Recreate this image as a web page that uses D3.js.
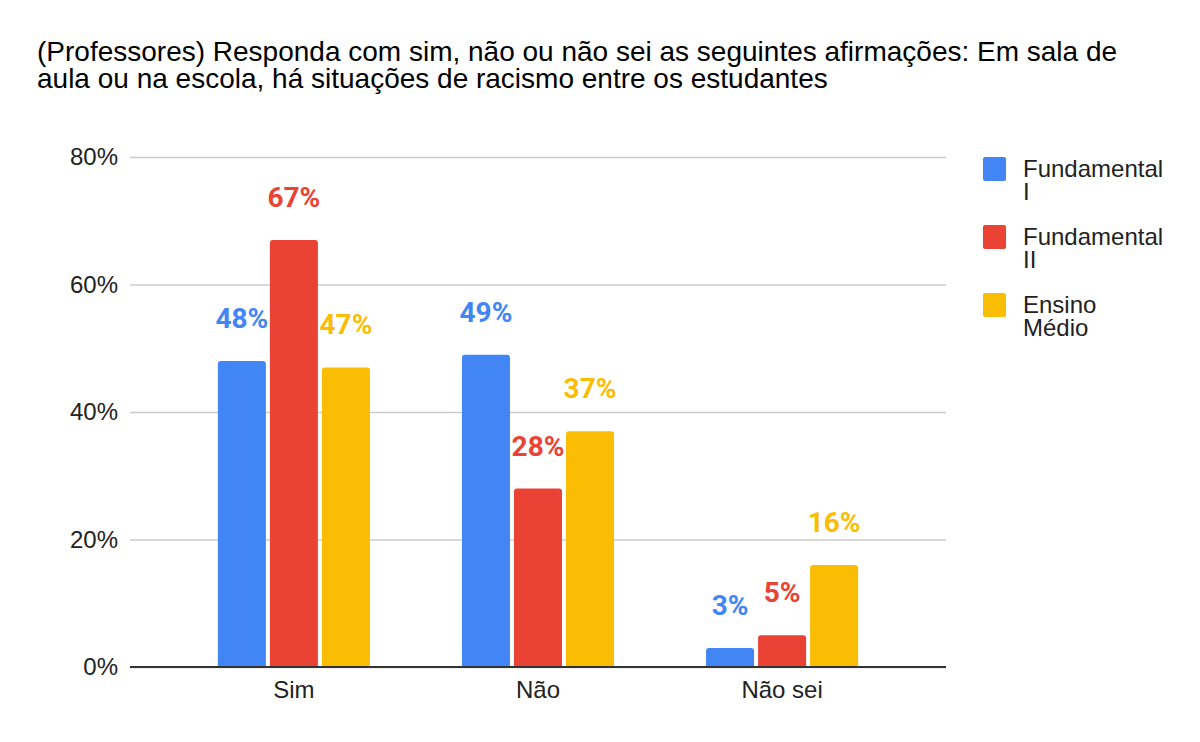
<!DOCTYPE html>
<html><head><meta charset="utf-8">
<script src="https://cdn.jsdelivr.net/npm/d3@7"></script>
<style>html,body{margin:0;padding:0;background:#fff;}svg{display:block;}</style>
</head><body>
<svg id="c" width="1200" height="742"></svg>
<script>
const categories = ["Sim", "Não", "Não sei"];
const seriesNames = ["Fundamental I", "Fundamental II", "Ensino Médio"];
const legendLines = [["Fundamental", "I"], ["Fundamental", "II"], ["Ensino", "Médio"]];
const fundamentalI = [48, 49, 3];
const fundamentalII = [67, 28, 5];
const ensinoMedio = [47, 37, 16];
const yTicks = [0, 20, 40, 60, 80];
const colors = ["#4285f4", "#ea4335", "#fbbc04"];
const titleLines = ["(Professores) Responda com sim, não ou não sei as seguintes afirmações: Em sala de", "aula ou na escola, há situações de racismo entre os estudantes"];

const series = [fundamentalI, fundamentalII, ensinoMedio];
const svg = d3.select("#c");
const pLeft = 130, pRight = 946, pTop = 157, pBottom = 667;
const sans = "Liberation Sans, Arial, sans-serif";

const x0 = d3.scaleBand().domain(categories).range([pLeft, pRight]).paddingInner(0.377).paddingOuter(0.36);
const x1 = d3.scaleBand().domain(d3.range(3)).range([0, x0.bandwidth()]).paddingInner(0.077);
const y = d3.scaleLinear().domain([0, 80]).range([pBottom, pTop]);

svg.append("g").selectAll("text").data(titleLines).join("text")
  .attr("x", 37).attr("y", (d, i) => 61 + i * 27)
  .attr("font-family", sans).attr("font-size", 28).attr("fill", "#000")
  .text(d => d);

const yAxis = d3.axisLeft(y).tickValues(yTicks).tickFormat(d => d + "%").tickSize(-(pRight - pLeft)).tickPadding(12);
const gy = svg.append("g").attr("transform", `translate(${pLeft},0)`).call(yAxis);
gy.select(".domain").remove();
gy.selectAll(".tick line").attr("stroke", "#cccccc").attr("stroke-width", 1.5);
gy.selectAll(".tick text").attr("font-family", sans).attr("font-size", 24).attr("fill", "#222");

const g = svg.append("g");
categories.forEach((c, ci) => {
  series.forEach((s, si) => {
    const bx = x0(c) + x1(si), bw = x1.bandwidth();
    const by = y(s[ci]);
    const r = 3;
    g.append("path")
      .attr("d", `M${bx},${pBottom}V${by + r}Q${bx},${by} ${bx + r},${by}H${bx + bw - r}Q${bx + bw},${by} ${bx + bw},${by + r}V${pBottom}Z`)
      .attr("fill", colors[si]);
    g.append("text").attr("x", bx + bw / 2).attr("y", by - 33)
      .attr("text-anchor", "middle").attr("font-family", "Roboto, sans-serif").attr("font-weight", "bold")
      .attr("font-size", 28).attr("fill", colors[si])
      .attr("stroke", "#fff").attr("stroke-width", 3).attr("paint-order", "stroke")
      .text(s[ci] + "%");
  });
});

svg.append("line").attr("x1", pLeft).attr("x2", pRight).attr("y1", y(0)).attr("y2", y(0))
  .attr("stroke", "#333").attr("stroke-width", 2);

const xAxis = d3.axisBottom(x0).tickSize(0).tickPadding(14);
const gx = svg.append("g").attr("transform", `translate(0,${pBottom})`).call(xAxis);
gx.select(".domain").remove();
gx.selectAll(".tick text").attr("font-family", sans).attr("font-size", 24).attr("fill", "#222");

const lg = svg.append("g");
seriesNames.forEach((n, i) => {
  const ly = 157 + i * 68;
  lg.append("rect").attr("x", 983).attr("y", ly).attr("width", 23).attr("height", 24).attr("rx", 2).attr("fill", colors[i]);
  legendLines[i].forEach((t, j) => {
    lg.append("text").attr("x", 1023).attr("y", ly + 20 + j * 23)
      .attr("font-family", sans).attr("font-size", 24).attr("fill", "#222").text(t);
  });
});
</script>
</body></html>
